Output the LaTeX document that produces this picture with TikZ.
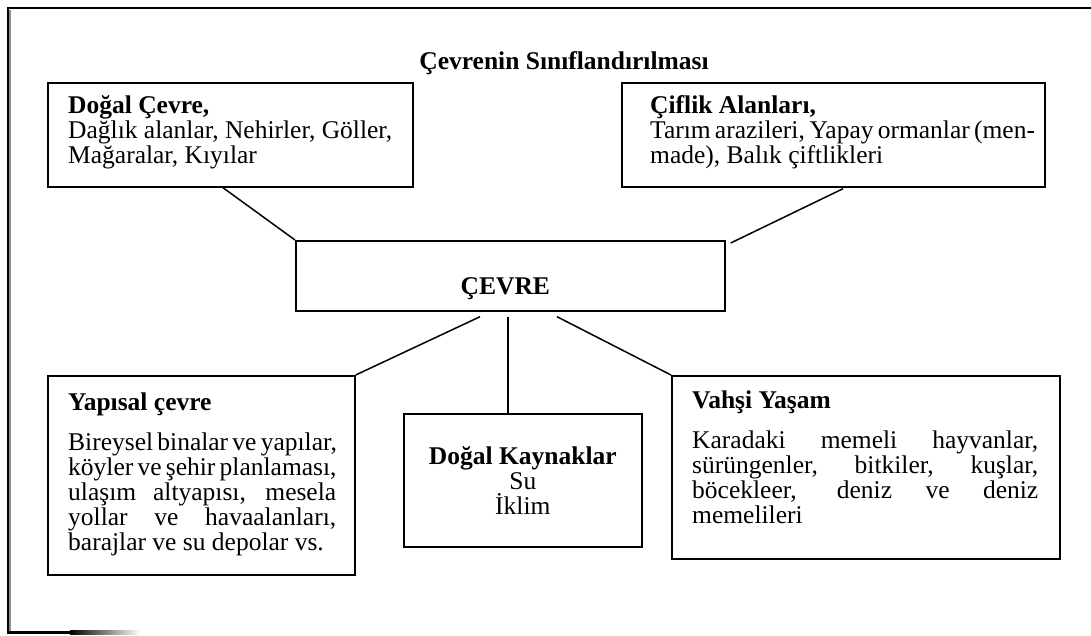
\documentclass[tikz,border=0pt]{standalone}
\usepackage{fontspec}
\setmainfont{Liberation Serif}
\usetikzlibrary{calc,shadows}
\newcommand{\boxfont}{\fontsize{25.5}{25}\selectfont\lineskiplimit=-100pt\relax}
\tikzset{
  box/.style={draw, line width=1.7pt, anchor=north west, inner sep=0pt, fill=white,
    drop shadow={shadow xshift=1.3pt, shadow yshift=-1.3pt, fill=black!55, opacity=1}},
  txt/.style={font=\boxfont, inner sep=0pt},
  conn/.style={line width=1.5pt},
}
\begin{document}
\begin{tikzpicture}[x=1pt,y=-1pt]
\useasboundingbox (0,0) rectangle (1091,635);
% outer frame (cropped)
\draw[line width=1.3pt, black!45] (10,633) -- (10,10);
\draw[line width=2.3pt] (8,633) -- (8,8) -- (1091,8);
\fill[black] (7,630.5) rectangle (70,634);
\shade[left color=black,right color=white] (70,630.5) rectangle (140,634);

% title
\node[txt, anchor=base] (title) at (564,69) {\bfseries Çevrenin Sınıflandırılması};

% boxes
\node[box, minimum width=365pt, minimum height=104pt] (dogal) at (47,82) {};
\node[box, minimum width=423pt, minimum height=104pt] (ciflik) at (621,82) {};
\node[box, minimum width=429pt, minimum height=70pt] (cevre) at (295,240) {};
\node[box, minimum width=307pt, minimum height=199pt] (yapisal) at (47,375) {};
\node[box, minimum width=238pt, minimum height=133pt] (kaynak) at (403,413) {};
\node[box, minimum width=388pt, minimum height=183pt] (vahsi) at (671,375) {};

% texts (anchor base = baseline of the last line)
\node[txt, anchor=base west, align=left] (dogalt) at ($(dogal.north west)+(21,81)$)
  {\textbf{Doğal Çevre,}\\Dağlık alanlar, Nehirler, Göller,\\Mağaralar, Kıyılar};
\node[txt, anchor=base west, align=left] (ciflikt) at ($(ciflik.north west)+(29,81)$)
  {\textbf{Çiflik Alanları,}\\\makebox[372pt][s]{Tarım arazileri, Yapay ormanlar (men-}\\made), Balık çiftlikleri};
\node[txt, anchor=base] (cevret) at ($(cevre.north)+(-5,54)$) {\bfseries ÇEVRE};
\node[txt, anchor=base west] (yapisalh) at ($(yapisal.north west)+(21,35)$) {\bfseries Yapısal çevre};
\node[txt, anchor=base west, align=left] (yapisalt) at ($(yapisal.north west)+(21,175)$)
  {\makebox[268pt][s]{Bireysel binalar ve yapılar,}\\
   \makebox[268pt][s]{köyler ve şehir planlaması,}\\
   \makebox[268pt][s]{ulaşım altyapısı, mesela}\\
   \makebox[268pt][s]{yollar ve havaalanları,}\\
   barajlar ve su depolar vs.};
\node[txt, anchor=base, align=center] (kaynakt) at ($(kaynak.north)+(0,101)$)
  {\textbf{Doğal Kaynaklar}\\Su\\İklim};
\node[txt, anchor=base west] (vahsih) at ($(vahsi.north west)+(21,33)$) {\bfseries Vahşi Yaşam};
\node[txt, anchor=base west, align=left] (vahsit) at ($(vahsi.north west)+(21,148)$)
  {\makebox[346pt][s]{Karadaki memeli hayvanlar,}\\
   \makebox[346pt][s]{sürüngenler, bitkiler, kuşlar,}\\
   \makebox[346pt][s]{böcekleer, deniz ve deniz}\\
   memelileri};

% connectors
\coordinate (c1) at ($(dogal.south west)+(176,0)$);
\coordinate (c2) at ($(ciflik.south west)+(222,1)$);
\coordinate (c2e) at ($(cevre.north east)+(5,3)$);
\coordinate (b1) at ($(cevre.south west)+(185,5)$);
\coordinate (b2) at ($(cevre.south west)+(213,5)$);
\coordinate (b3) at ($(cevre.south west)+(262,5)$);
\coordinate (k2) at ($(kaynak.north west)+(105,0)$);
\draw[conn] (c1) -- (cevre.north west);
\draw[conn] (c2) -- (c2e);
\draw[conn] (b1) -- (yapisal.north east);
\draw[conn] (b2) -- (k2);
\draw[conn] (b3) -- (vahsi.north west);
\end{tikzpicture}
\end{document}
